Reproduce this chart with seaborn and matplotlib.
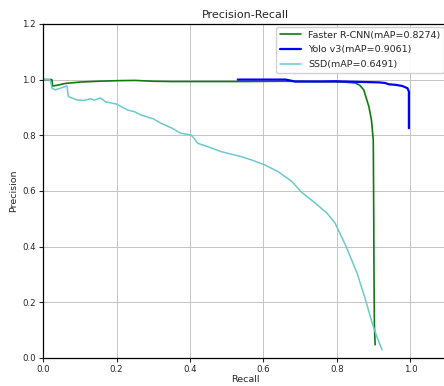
import numpy as np
import pandas as pd
import matplotlib
matplotlib.use("Agg")
import matplotlib.pyplot as plt
import seaborn as sns

# curves (recall, precision)
frcnn_recall = [0.0, 0.024, 0.026, 0.04, 0.06, 0.1, 0.15, 0.2, 0.25, 0.3, 0.35, 0.45,
                0.55, 0.65, 0.75, 0.82, 0.849, 0.862, 0.873, 0.887, 0.894, 0.899,
                0.900, 0.901, 0.902, 0.904]
frcnn_prec = [1.0, 1.0, 0.977, 0.980, 0.986, 0.991, 0.994, 0.996, 0.997, 0.994, 0.993, 0.993,
              0.993, 0.994, 0.993, 0.991, 0.988, 0.980, 0.963, 0.903, 0.855, 0.783,
              0.568, 0.30, 0.12, 0.047]

yolo_recall = [0.53, 0.60, 0.66, 0.686, 0.75, 0.795, 0.85, 0.914, 0.93, 0.942, 0.96,
               0.978, 0.992, 0.996, 0.996]
yolo_prec = [1.0, 1.0, 1.0, 0.993, 0.993, 0.994, 0.992, 0.990, 0.988, 0.983, 0.981,
             0.977, 0.969, 0.957, 0.825]

ssd_recall = [0.0, 0.018, 0.022, 0.024, 0.033, 0.045, 0.065, 0.067, 0.069, 0.08, 0.092,
              0.11, 0.129, 0.14, 0.156, 0.17, 0.2, 0.21, 0.229, 0.25, 0.266, 0.3, 0.321,
              0.35, 0.375, 0.403, 0.41, 0.421, 0.448, 0.485, 0.54, 0.57, 0.604, 0.64,
              0.677, 0.704, 0.741, 0.773, 0.795, 0.823, 0.855, 0.878, 0.896, 0.910, 0.923]
ssd_prec = [1.0, 1.0, 0.985, 0.969, 0.963, 0.968, 0.977, 0.955, 0.939, 0.933, 0.927,
            0.925, 0.931, 0.926, 0.934, 0.920, 0.912, 0.905, 0.891, 0.884, 0.873, 0.859,
            0.843, 0.826, 0.807, 0.801, 0.790, 0.771, 0.759, 0.741, 0.723, 0.710, 0.693,
            0.669, 0.634, 0.595, 0.556, 0.520, 0.484, 0.406, 0.304, 0.208, 0.125, 0.071, 0.029]

labels = ["Faster R-CNN(mAP=0.8274)", "Yolo v3(mAP=0.9061)", "SSD(mAP=0.6491)"]

sns.set_style("ticks", {"axes.grid": True, "grid.color": "#c4c4c4",
                        "axes.edgecolor": "black"})
plt.rcParams["font.family"] = ["DejaVu Sans"]

fig = plt.figure(figsize=(4.44, 3.86), dpi=100)
ax = fig.add_axes([0.097, 0.073, 0.91, 0.865])

curves = [
    (frcnn_recall, frcnn_prec, labels[0], "#107a10", 1.2),
    (yolo_recall, yolo_prec, labels[1], "blue", 1.6),
    (ssd_recall, ssd_prec, labels[2], "#6cc9cf", 1.1),
]
for r, p, lab, col, lw in curves:
    df = pd.DataFrame({"Recall": r, "Precision": p})
    sns.lineplot(data=df, x="Recall", y="Precision", sort=False, estimator=None,
                 color=col, linewidth=lw, label=lab, ax=ax)

ax.set_xlim(0, 1.1)
ax.set_ylim(0, 1.2)
ax.set_xticks(np.arange(0, 1.01, 0.2))
ax.set_yticks(np.arange(0, 1.21, 0.2))
ax.grid(True, color="#c4c4c4", linewidth=0.7)
ax.tick_params(labelsize=6.2, length=3, width=0.8, pad=2)
ax.set_xlabel("Recall", fontsize=6.8, labelpad=1)
ax.set_ylabel("Precision", fontsize=6.8, labelpad=3)
ax.set_title("Precision-Recall", fontsize=8, pad=4)
for s in ax.spines.values():
    s.set_linewidth(0.9)
ax.legend(loc="upper right", fontsize=6.8, frameon=True, framealpha=0.9,
          edgecolor="#cccccc", borderaxespad=0.3, handlelength=2.2, labelspacing=0.6)

fig.savefig("out.png", dpi=100)
